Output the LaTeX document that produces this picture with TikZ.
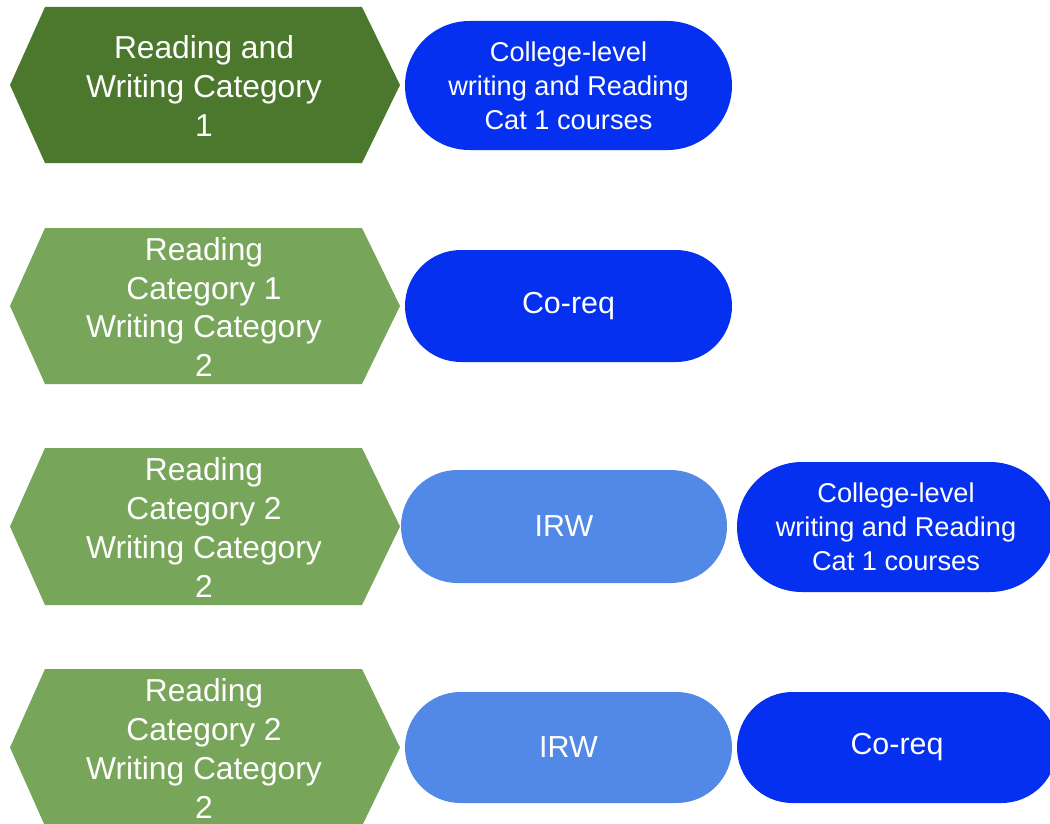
\documentclass[tikz,border=0pt]{standalone}
\usepackage{fontspec}
\setmainfont{Liberation Sans}
\usetikzlibrary{shapes.misc}
\definecolor{deepgreen}{HTML}{4B782C}
\definecolor{leafgreen}{HTML}{77A55A}
\definecolor{royal}{HTML}{0530F0}
\definecolor{sky}{HTML}{5389E6}
% flat hexagonal band: colour, top edge, bottom edge
\newcommand\hexband[3]{%
  \fill[#1] (10,{(#2+#3)/2}) -- (45,#2) -- (362,#2) -- (400,{(#2+#3)/2})
    -- (362,#3) -- (45,#3) -- cycle;}
\begin{document}
\begin{tikzpicture}[x=0.75pt,y=-0.75pt,
  hexlabel/.style={text=white, align=center, font=\fontsize{23.8}{29.25}\selectfont},
  pill/.style={rounded rectangle, inner sep=0pt, text=white, align=center},
  bigtext/.style={font=\fontsize{22.8}{27}\selectfont},
  smalltext/.style={font=\fontsize{20.4}{25.5}\selectfont}]
\useasboundingbox (0,0) rectangle (1050,824);
\clip (0,0) rectangle (1050,824);
\fill[white] (0,0) rectangle (1050,824);

% row 1
\hexband{deepgreen}{7}{163}
\node[hexlabel] (r1) at (204,86) {Reading and\\Writing Category\\1};
\node[pill, fill=royal, smalltext, minimum width=245.25pt, minimum height=96.75pt]
  (c1) at (568.5,85.5) {College-level\\writing and Reading\\Cat 1 courses};

% row 2
\hexband{leafgreen}{228}{384}
\node[hexlabel] (r2) at (204,307) {Reading\\Category 1\\Writing Category\\2};
\node[pill, fill=royal, bigtext, minimum width=245.25pt, minimum height=84pt]
  (c2) at (568.5,306) {Co-req};

% row 3
\hexband{leafgreen}{448}{605}
\node[hexlabel] (r3) at (204,527) {Reading\\Category 2\\Writing Category\\2};
\node[pill, fill=sky, bigtext, minimum width=244.5pt, minimum height=84.75pt]
  (i3) at (564,526.5) {IRW};
\node[pill, fill=royal, smalltext, minimum width=238.5pt, minimum height=97.5pt]
  (c3) at (896,527) {College-level\\writing and Reading\\Cat 1 courses};

% row 4
\hexband{leafgreen}{669}{826}
\node[hexlabel] (r4) at (204,748) {Reading\\Category 2\\Writing Category\\2};
\node[pill, fill=sky, bigtext, minimum width=245.25pt, minimum height=83.25pt]
  (i4) at (568.5,747.5) {IRW};
\node[pill, fill=royal, bigtext, minimum width=240pt, minimum height=83.25pt]
  (c4) at (897,747.5) {Co-req};
\end{tikzpicture}
\end{document}
